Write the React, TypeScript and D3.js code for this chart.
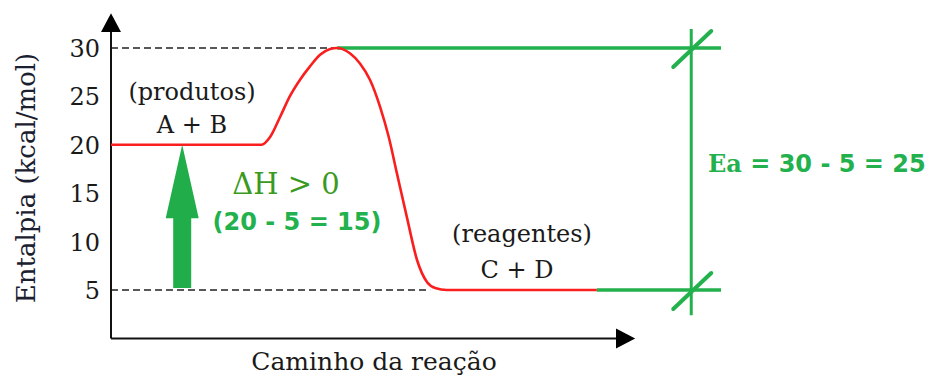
import React from "react";
import * as d3 from "d3";

const tickValues = [5, 10, 15, 20, 25, 30];
const pathProgress = [0, 27, 29.8, 31.5, 33.5, 35.4, 37.4, 39.4, 41.4, 43.4, 44.8, 47.3, 49.3, 51.3, 53.3, 55.0, 56.6, 58.6, 60.6, 62.6, 64.2, 66.5, 70, 96.2];
const pathEnthalpy = [20, 20, 20, 20.8, 22.9, 25.0, 26.7, 28.1, 29.3, 29.9, 30, 29.45, 28.4, 26.7, 23.9, 20.8, 17.1, 12.5, 8.1, 5.8, 5.2, 5, 5, 5];
const productsH = 20;
const reactantsH = 5;
const peakH = 30;
const peakX = 44.8;
const reactantsStartX = 63.2;
const reactantsEndX = 96.2;
const markerX = 114.9;
const greenEndX = 120.8;
const deltaArrowX = 14.1;

const W = 944;
const H = 376;
const RED = "#fa1e1e";
const GREEN = "#22b14c";
const SERIF = "'DejaVu Serif', serif";
const SANS = "'DejaVu Sans', sans-serif";

export default function App() {
  const x = d3.scaleLinear().domain([0, 100]).range([111, 616]);
  const y = d3.scaleLinear().domain([0, 30]).range([338.4, 48]);

  const curvePts: [number, number][] = pathProgress.map((p, i) => [p, pathEnthalpy[i]]);
  const line = d3
    .line<[number, number]>()
    .x((d) => x(d[0]))
    .y((d) => y(d[1]))
    .curve(d3.curveMonotoneX);

  const ax = x(0);
  const ay = y(0);
  const yTip = y(33.6);
  const yBase = y(31.65);
  const xTip = x(103.8);
  const xBase = x(100);

  // delta H arrow
  const axc = x(deltaArrowX);
  const tipY = y(productsH);
  const headBase = y(12.4);
  const tailY = y(reactantsH + 0.2);
  const arrowPts = [
    [axc, tipY],
    [axc + 16.5, headBase],
    [axc + 9, headBase],
    [axc + 9, tailY],
    [axc - 9, tailY],
    [axc - 9, headBase],
    [axc - 16.5, headBase],
  ]
    .map((p) => p.join(","))
    .join(" ");

  const mx = x(markerX);
  const slash = (cy: number) => (
    <line x1={mx - 18} y1={cy + 19} x2={mx + 20} y2={cy - 17} stroke={GREEN} strokeWidth={4} strokeLinecap="round" />
  );

  return (
    <svg width={W} height={H} style={{ position: "absolute", left: 0, top: 0, background: "#fff" }}>
      <rect width={W} height={H} fill="#fff" />
      {/* dashed reference lines */}
      <line x1={ax} x2={x(peakX)} y1={y(peakH)} y2={y(peakH)} stroke="#222" strokeWidth={1.6} strokeDasharray="7,4" />
      <line x1={ax} x2={x(reactantsStartX)} y1={y(reactantsH)} y2={y(reactantsH)} stroke="#222" strokeWidth={1.6} strokeDasharray="7,4" />

      {/* axes */}
      <line x1={ax} x2={ax} y1={ay} y2={yBase} stroke="#111" strokeWidth={2} />
      <line x1={ax} x2={xBase} y1={ay} y2={ay} stroke="#111" strokeWidth={2} />
      <polygon points={`${ax},${yTip} ${ax - 10},${yBase} ${ax + 10},${yBase}`} fill="#000" />
      <polygon points={`${xTip},${ay} ${xBase},${ay - 10} ${xBase},${ay + 10}`} fill="#000" />

      {/* ticks labels */}
      {tickValues.map((t) => (
        <text key={t} x={100} y={y(t) + 9} textAnchor="end" fontFamily={SERIF} fontSize={24} fill="#1a1a1a">
          {t}
        </text>
      ))}

      {/* axis titles */}
      <text
        transform={`translate(35,178) rotate(-90)`}
        textAnchor="middle"
        fontFamily={SERIF}
        fontSize={26}
        fill="#1a2030"
      >
        Entalpia (kcal/mol)
      </text>
      <text x={374} y={370} textAnchor="middle" fontFamily={SERIF} fontSize={25} fill="#1a1a1a">
        Caminho da reação
      </text>

      {/* green Ea construction */}
      <line x1={x(peakX)} x2={x(greenEndX)} y1={y(peakH)} y2={y(peakH)} stroke={GREEN} strokeWidth={3.5} />
      <line x1={x(reactantsEndX)} x2={x(greenEndX)} y1={y(reactantsH)} y2={y(reactantsH)} stroke={GREEN} strokeWidth={3.5} />
      <line x1={mx} x2={mx} y1={y(31.96)} y2={y(2.4)} stroke={GREEN} strokeWidth={3} />
      {slash(y(peakH))}
      {slash(y(reactantsH))}

      {/* red reaction path */}
      <path d={line(curvePts) || ""} fill="none" stroke={RED} strokeWidth={2.6} strokeLinejoin="round" />

      {/* delta H arrow */}
      <polygon points={arrowPts} fill="#21ad4a" />

      {/* annotations */}
      <text x={192} y={100} textAnchor="middle" fontFamily={SERIF} fontSize={24} fill="#1a1a1a">
        (produtos)
      </text>
      <text x={192} y={133} textAnchor="middle" fontFamily={SERIF} fontSize={24} fill="#1a1a1a">
        A + B
      </text>
      <text x={522} y={242} textAnchor="middle" fontFamily={SERIF} fontSize={24} fill="#1a1a1a">
        (reagentes)
      </text>
      <text x={517} y={278} textAnchor="middle" fontFamily={SERIF} fontSize={24} fill="#1a1a1a">
        C + D
      </text>
      <text x={286} y={194} textAnchor="middle" fontFamily={SERIF} fontSize={29} fill="#3a9a1e">
        ΔH &gt; 0
      </text>
      <text x={297} y={230} textAnchor="middle" fontFamily={SANS} fontWeight="bold" fontSize={24} fill={GREEN}>
        (20 - 5 = 15)
      </text>
      <text x={708} y={172} textAnchor="start" fontFamily={SANS} fontWeight="bold" fontSize={24} fill={GREEN}>
        <tspan fontFamily={SERIF}>Ea</tspan> = 30 - 5 = 25
      </text>
    </svg>
  );
}
